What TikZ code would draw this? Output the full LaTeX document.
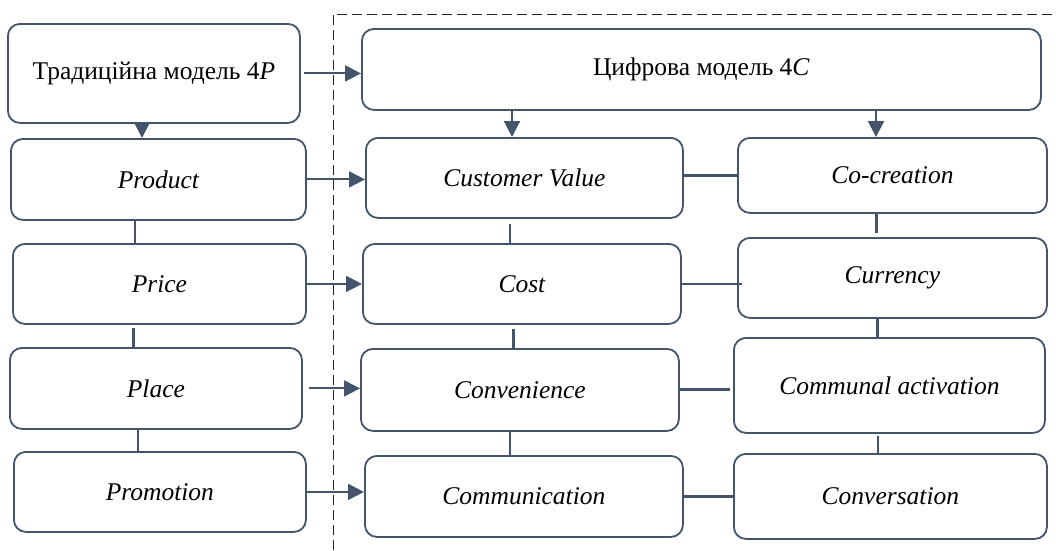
\documentclass[tikz,border=0pt]{standalone}
\usepackage{fontspec}
\setmainfont{Liberation Serif}
\usetikzlibrary{arrows.meta}
\definecolor{edge}{HTML}{44546A}
\begin{document}
\begin{tikzpicture}[x=1pt,y=-1pt,
  box/.style={draw=edge, line width=1.8pt, rounded corners=12pt, anchor=north west,
    inner sep=0pt, font=\fontsize{25.5}{30}\selectfont\itshape, align=center},
  thinlink/.style={draw=edge, line width=2pt},
  thicklink/.style={draw=edge, line width=3pt},
  arr/.style={draw=edge, line width=2pt, -{Triangle[length=16pt,width=16pt]}},
  frame/.style={draw=black!85, line width=0.8pt, dash pattern=on 10pt off 5pt}
]
\useasboundingbox (0,0) rectangle (1056,550);

% dashed frame
\coordinate (fb) at (333,550);
\coordinate (fc) at (333,14);
\coordinate (fr) at (1056,14);
\draw[frame] (fb) -- (fc) -- (fr);

% boxes
\node[box, minimum width=292pt, minimum height=99pt] (p4) at (7,23) {\upshape Традиційна модель 4\textit{P}};
\node[box, minimum width=679pt, minimum height=81pt] (c4) at (361,28) {\upshape Цифрова модель 4\textit{C}};

\node[box, minimum width=295pt, minimum height=81pt] (prod) at (10,138) {Product};
\node[box, minimum width=293pt, minimum height=80pt] (price) at (12,243) {Price};
\node[box, minimum width=292pt, minimum height=81pt] (place) at (9,347) {Place};
\node[box, minimum width=292pt, minimum height=80pt] (promo) at (13,451) {Promotion};

\node[box, minimum width=317pt, minimum height=80pt] (cv) at (365,137) {Customer Value};
\node[box, minimum width=318pt, minimum height=80pt] (cost) at (362,243) {Cost};
\node[box, minimum width=318pt, minimum height=82pt] (conv) at (360,348) {Convenience};
\node[box, minimum width=318pt, minimum height=81pt] (comm) at (364,455) {Communication};

\node[box, minimum width=309pt, minimum height=75pt] (cocr) at (737,137) {Co-creation};
\node[box, minimum width=309pt, minimum height=80pt] (curr) at (737,237) {Currency};
\node[box, minimum width=311pt, minimum height=95pt] (commu) at (733,337) {Communal activation};
\node[box, minimum width=313pt, minimum height=85pt] (conver) at (733,453) {Conversation};

% column guides
\coordinate (xa) at (142,0);
\coordinate (xb) at (135,0);
\coordinate (xc) at (133,0);
\coordinate (xd) at (138,0);
\coordinate (xe) at (512,0);
\coordinate (xf) at (510,0);
\coordinate (xg) at (513,0);
\coordinate (xh) at (876,0);
\coordinate (xi) at (877,0);
\coordinate (xj) at (878,0);

% arrows
\draw[arr] ([xshift=3pt]p4.east) -- (p4.east -| c4.west);
\draw[arr] (p4.south -| xa) -- (prod.north -| xa);
\draw[arr] (c4.south -| xe) -- (cv.north -| xe);
\draw[arr] (c4.south -| xh) -- (cocr.north -| xh);

\draw[arr] (prod.east) -- (prod.east -| cv.west);
\draw[arr] (price.east) -- (price.east -| cost.west);
\draw[arr] ([xshift=6pt]place.east) -- (place.east -| conv.west);
\draw[arr] (promo.east) -- (promo.east -| comm.west);

% vertical links
\draw[thinlink] (prod.south -| xb) -- (price.north -| xb);
\draw[thicklink] ([yshift=-3pt]price.south -| xc) -- (place.north -| xc);
\draw[thinlink] (place.south -| xd) -- (promo.north -| xd);

\draw[thinlink] ([yshift=-5pt]cv.south -| xf) -- (cost.north -| xf);
\draw[thicklink] ([yshift=-4pt]cost.south -| xg) -- (conv.north -| xg);
\draw[thinlink] (conv.south -| xf) -- (comm.north -| xf);

\draw[thicklink] (cocr.south -| xh) -- ([yshift=4pt]curr.north -| xh);
\draw[thicklink] (curr.south -| xi) -- (commu.north -| xi);
\draw[thinlink] ([yshift=-2pt]commu.south -| xj) -- (conver.north -| xj);

% horizontal links
\draw[thicklink] (cv.east |- cocr.west) -- (cocr.west);
\draw[thinlink] (cost.east) -- ([xshift=5pt]cost.east -| curr.west);
\draw[thicklink] (conv.east) -- ([xshift=-3pt]conv.east -| commu.west);
\draw[thicklink] (comm.east) -- (comm.east -| conver.west);
\end{tikzpicture}
\end{document}
